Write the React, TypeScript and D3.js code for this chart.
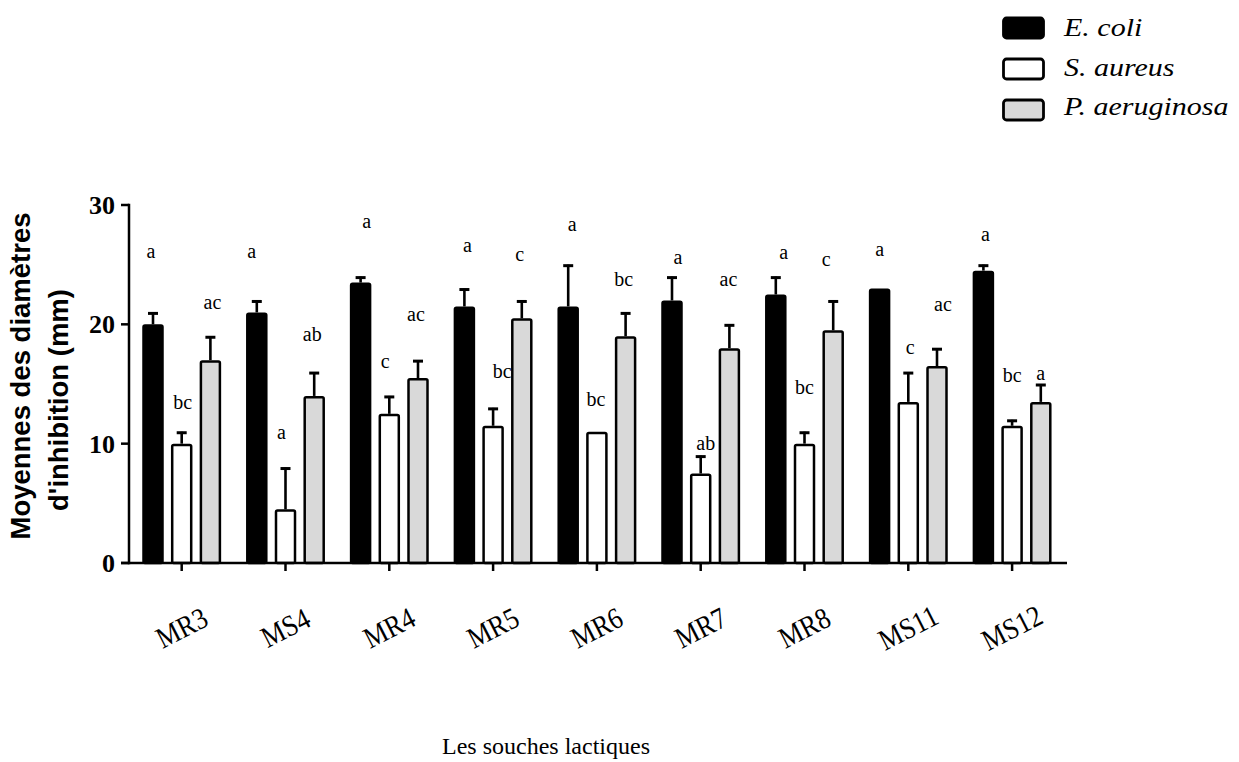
import React from 'react';
import * as d3 from 'd3';

const categories = ['MR3', 'MS4', 'MR4', 'MR5', 'MR6', 'MR7', 'MR8', 'MS11', 'MS12'];
const seriesNames = ['E. coli', 'S. aureus', 'P. aeruginosa'];
const seriesFills = ['#000000', '#ffffff', '#d9d9d9'];

const ecoliMean = [20, 21, 23.5, 21.5, 21.5, 22, 22.5, 23, 24.5];
const aureusMean = [10, 4.5, 12.5, 11.5, 11, 7.5, 10, 13.5, 11.5];
const aeruginosaMean = [17, 14, 15.5, 20.5, 19, 18, 19.5, 16.5, 13.5];

const ecoliErr = [1, 1, 0.5, 1.5, 3.5, 2, 1.5, 0, 0.5];
const aureusErr = [1, 3.5, 1.5, 1.5, 0, 1.5, 1, 2.5, 0.5];
const aeruginosaErr = [2, 2, 1.5, 1.5, 2, 2, 2.5, 1.5, 1.5];

const ecoliLetters = ['a', 'a', 'a', 'a', 'a', 'a', 'a', 'a', 'a'];
const aureusLetters = ['bc', 'a', 'c', 'bc', 'bc', 'ab', 'bc', 'c', 'bc'];
const aeruginosaLetters = ['ac', 'ab', 'ac', 'c', 'bc', 'ac', 'c', 'ac', 'a'];

// heights (in mm units) at which the significance letters are centred
const ecoliLetterY = [26.1, 26.1, 28.6, 26.6, 28.3, 25.6, 26.0, 26.2, 27.5];
const aureusLetterY = [13.4, 10.9, 16.85, 16.0, 13.7, 10.0, 14.7, 18.0, 15.7];
const aeruginosaLetterY = [21.8, 19.1, 20.8, 25.8, 23.7, 23.7, 25.4, 21.6, 15.8];
// small horizontal nudges of the letters (px)
const ecoliLetterDx = [-2, -5, 6, 3, 4, 6, 8, 0, 2];
const aureusLetterDx = [1, -4, -4, 9, -1, 5, 0, 2, 0];
const aeruginosaLetterDx = [2, -2, -2, -2, -2, -1, -7, 6, 0];

const yTicks = [0, 10, 20, 30];

const means = [ecoliMean, aureusMean, aeruginosaMean];
const errs = [ecoliErr, aureusErr, aeruginosaErr];
const letters = [ecoliLetters, aureusLetters, aeruginosaLetters];
const letterY = [ecoliLetterY, aureusLetterY, aeruginosaLetterY];
const letterDx = [ecoliLetterDx, aureusLetterDx, aeruginosaLetterDx];

export default function App() {
  const W = 1239;
  const H = 762;
  const axisX = 129;
  const y = d3.scaleLinear().domain([0, 30]).range([563, 205]);
  const x = d3.scaleBand().domain(categories).range([129.8, 1064]).paddingInner(0).paddingOuter(0);
  const xs = d3.scalePoint().domain(seriesNames).range([-28.7, 28.7]);
  const bw = x.bandwidth();
  const barW = 19;
  const serif = "Liberation Serif";
  const sans = "Liberation Sans";

  return (
    <svg width={W} height={H} style={{ position: 'absolute', left: 0, top: 0, background: '#fff' }}>
      {/* significance letters (drawn under bars) */}
      {seriesNames.map((s, si) =>
        categories.map((c, ci) => (
          <text
            key={`l-${si}-${ci}`}
            x={(x(c) as number) + bw / 2 + (xs(s) as number) + letterDx[si][ci]}
            y={y(letterY[si][ci])}
            dy="0.3em"
            textAnchor="middle"
            fontFamily={serif}
            fontSize={20}
            fill="#000"
          >
            {letters[si][ci]}
          </text>
        ))
      )}
      {/* error bars */}
      {seriesNames.map((s, si) =>
        categories.map((c, ci) => {
          const e = errs[si][ci];
          if (!e) return null;
          const cx = (x(c) as number) + bw / 2 + (xs(s) as number);
          const top = y(means[si][ci] + e);
          return (
            <g key={`e-${si}-${ci}`}>
              <line x1={cx} x2={cx} y1={y(means[si][ci])} y2={top} stroke="#000" strokeWidth={2.6} />
              <line x1={cx - 5} x2={cx + 5} y1={top + 1} y2={top + 1} stroke="#000" strokeWidth={3} />
            </g>
          );
        })
      )}
      {/* bars */}
      {seriesNames.map((s, si) =>
        categories.map((c, ci) => {
          const cx = (x(c) as number) + bw / 2 + (xs(s) as number);
          const v = means[si][ci];
          return (
            <rect
              key={`b-${si}-${ci}`}
              x={cx - barW / 2}
              y={y(v) + 1.25}
              width={barW}
              height={y(0) - y(v) - 1.25}
              rx={1.5}
              fill={seriesFills[si]}
              stroke="#000"
              strokeWidth={2.5}
            />
          );
        })
      )}
      {/* y axis */}
      <line x1={axisX} x2={axisX} y1={y(30) - 1.2} y2={y(0) + 1.2} stroke="#000" strokeWidth={2.5} />
      {yTicks.map((t) => (
        <g key={`yt-${t}`}>
          <line x1={axisX - 8} x2={axisX} y1={y(t)} y2={y(t)} stroke="#000" strokeWidth={2.5} />
          <text x={115} y={y(t)} dy="0.34em" textAnchor="end" fontFamily={serif} fontWeight="bold" fontSize={26}>
            {t}
          </text>
        </g>
      ))}
      {/* x axis */}
      <line x1={axisX - 8} x2={1067} y1={y(0)} y2={y(0)} stroke="#000" strokeWidth={2.5} />
      {categories.map((c) => {
        const cx = (x(c) as number) + bw / 2;
        return (
          <g key={`xt-${c}`}>
            <line x1={cx} x2={cx} y1={y(0)} y2={y(0) + 8} stroke="#000" strokeWidth={2.5} />
            <g transform={`translate(${cx},628) rotate(-27) scale(1,1.15)`}>
              <text textAnchor="middle" dy="0.33em" fontFamily={serif} fontSize={26}>
                {c}
              </text>
            </g>
          </g>
        );
      })}
      {/* y title */}
      <g transform="translate(30,376) rotate(-90)">
        <text textAnchor="middle" fontFamily={sans} fontWeight="bold" fontSize={27.5}>
          Moyennes des diamètres
        </text>
      </g>
      <g transform="translate(68,400) rotate(-90)">
        <text textAnchor="middle" fontFamily={sans} fontWeight="bold" fontSize={27.5}>
          d'inhibition (mm)
        </text>
      </g>
      {/* x title */}
      <text x={546} y={754} textAnchor="middle" fontFamily={serif} fontSize={24}>
        Les souches lactiques
      </text>
      {/* legend */}
      {seriesNames.map((s, si) => (
        <g key={`lg-${s}`}>
          <rect x={1003.5} y={18 + si * 41} width={40} height={20} rx={3} fill={seriesFills[si]} stroke="#000" strokeWidth={2.8} />
          <g transform={`translate(1064,${36 + si * 39.5}) scale(1.2,1)`}>
            <text x={0} y={0} fontFamily={serif} fontStyle="italic" fontSize={25}>
              {s}
            </text>
          </g>
        </g>
      ))}
    </svg>
  );
}
